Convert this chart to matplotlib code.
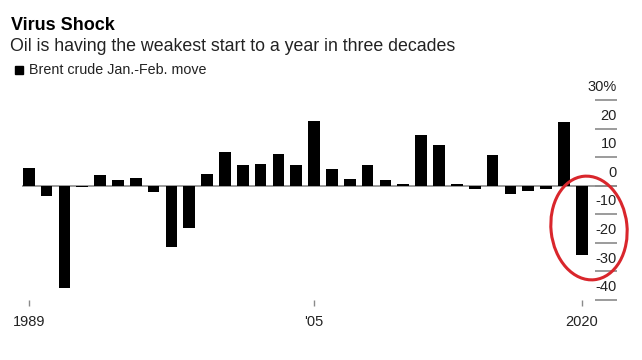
import matplotlib
matplotlib.use("Agg")
import matplotlib.pyplot as plt
from matplotlib.patches import Ellipse, Rectangle
from matplotlib.transforms import IdentityTransform, blended_transform_factory

plt.rcParams['font.family'] = ['Liberation Sans', 'DejaVu Sans']

# Brent crude Jan.-Feb. move, %
years = list(range(1989, 2021))
moves = [6.1, -3.6, -35.7, -0.3, 3.6, 1.9, 2.7, -2.3, -21.4, -14.7,
         4.0, 11.8, 7.3, 7.7, 11.1, 7.3, 22.6, 5.7, 2.3, 7.1,
         2.0, 0.6, 17.6, 14.2, 0.5, -1.3, 10.7, -3.0, -2.0, -1.3,
         22.2, -24.1]
y_ticks = [-40, -30, -20, -10, 0, 10, 20, 30]
y_labels = ['-40', '-30', '-20', '-10', '0', '10', '20', '30%']
x_ticks = [1989, 2005, 2020]
x_labels = ['1989', "'05", '2020']

W, H = 642, 360
fig = plt.figure(figsize=(W / 100, H / 100), dpi=100)
ax = fig.add_axes([22 / W, 1 - 300 / H, (617 - 22) / W, 200 / H])

ax.bar(years, moves, width=0.655, color='black', zorder=3)
ax.axhline(0, color='#8a8a8a', lw=1.2, zorder=2)

ax.set_xlim(1988.62, 2021.98)
ax.set_ylim(-40, 30)
for s in ax.spines.values():
    s.set_visible(False)

ax.set_yticks(y_ticks)
ax.yaxis.tick_right()
ax.tick_params(axis='y', direction='in', length=16, width=1.2, color='#8a8a8a',
               labelright=False)
tr = blended_transform_factory(ax.transAxes, ax.transData)
for v, lab in zip(y_ticks, y_labels):
    ax.text(1.0, v + 3.1, lab, transform=tr, ha='right', va='baseline',
            fontsize=10.5, color='#222222')

ax.set_xticks(x_ticks)
ax.set_xticklabels(x_labels)
ax.tick_params(axis='x', direction='out', length=4, width=1, color='#8a8a8a',
               pad=7, labelsize=10.5, labelcolor='#222222')

# red circle round the 2020 drop
ax.add_artist(Ellipse((589, H - 228), 76, 104, angle=6, fill=False,
                      edgecolor='#d9262c', lw=2.2, transform=IdentityTransform(),
                      clip_on=False, zorder=5))

fig.text(11 / W, 1 - 30 / H, 'Virus Shock', fontsize=13, fontweight='bold',
         va='baseline', color='black')
fig.text(10 / W, 1 - 51 / H, 'Oil is having the weakest start to a year in three decades',
         fontsize=12.8, va='baseline', color='#222222')
fig.patches.append(Rectangle((15 / W, 1 - 74 / H), 8 / W, 8 / H, color='black',
                             transform=fig.transFigure, figure=fig))
fig.text(29 / W, 1 - 74 / H, 'Brent crude Jan.-Feb. move', fontsize=10.3,
         va='baseline', color='#222222')

fig.savefig('out.png', dpi=100)
